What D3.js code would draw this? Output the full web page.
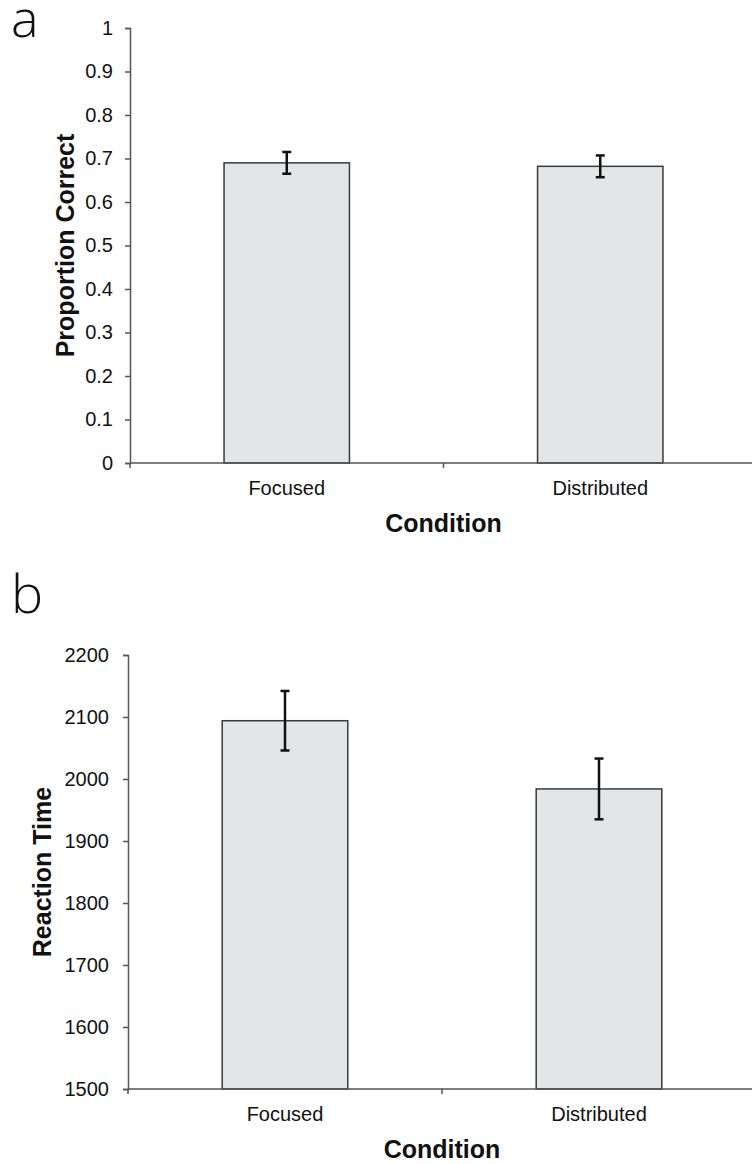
<!DOCTYPE html>
<html>
<head>
<meta charset="utf-8">
<script src="https://cdn.jsdelivr.net/npm/d3@7"></script>
<style>
  html, body { margin: 0; padding: 0; background: #fff; }
  svg { display: block; }
  text { font-family: "Liberation Sans", Arial, Helvetica, sans-serif; fill: #111; }
</style>
</head>
<body>
<svg id="chart" width="752" height="1164"></svg>
<script>
// Conditions shown on both panels
const categories = ["Focused", "Distributed"];

// Panel a: proportion correct (mean and standard error)
const accuracyMean = [0.69, 0.682];
const accuracyErr = [0.025, 0.025];
const accuracyTicks = [0, 0.1, 0.2, 0.3, 0.4, 0.5, 0.6, 0.7, 0.8, 0.9, 1];

// Panel b: reaction time (mean and standard error)
const rtMean = [2094, 1984];
const rtErr = [48, 49];
const rtTicks = [1500, 1600, 1700, 1800, 1900, 2000, 2100, 2200];

const svg = d3.select("#chart");

function drawPanel(cfg) {
  const g = svg.append("g");

  const x = d3.scaleBand()
    .domain(cfg.categories)
    .range([cfg.left, cfg.right])
    .paddingInner(0.6)
    .paddingOuter(0.3);

  const y = d3.scaleLinear()
    .domain(cfg.domain)
    .range([cfg.bottom, cfg.top]);

  // panel letter
  g.append("text")
    .attr("x", 11)
    .attr("y", cfg.letterY)
    .attr("font-size", cfg.letterSize)
    .attr("font-weight", 300)
    .style("font-family", "'Open Sans', 'Liberation Sans', Arial, sans-serif")
    .text(cfg.letter);

  // bars
  g.selectAll("rect.bar")
    .data(cfg.categories)
    .join("rect")
    .attr("class", "bar")
    .attr("x", d => x(d))
    .attr("width", x.bandwidth())
    .attr("y", (d, i) => y(cfg.mean[i]))
    .attr("height", (d, i) => y(cfg.domain[0]) - y(cfg.mean[i]))
    .attr("fill", "#e4e5e7")
    .attr("stroke", "#3a3a3a")
    .attr("stroke-width", 1.5);

  // error bars
  const eb = g.selectAll("g.err")
    .data(cfg.categories)
    .join("g")
    .attr("class", "err")
    .attr("stroke", "#111")
    .attr("stroke-width", 2.5);
  const cx = d => x(d) + x.bandwidth() / 2;
  eb.append("line")
    .attr("x1", cx).attr("x2", cx)
    .attr("y1", (d, i) => y(cfg.mean[i] + cfg.err[i]))
    .attr("y2", (d, i) => y(cfg.mean[i] - cfg.err[i]));
  eb.append("line")
    .attr("x1", d => cx(d) - 4.5).attr("x2", d => cx(d) + 4.5)
    .attr("y1", (d, i) => y(cfg.mean[i] + cfg.err[i]))
    .attr("y2", (d, i) => y(cfg.mean[i] + cfg.err[i]));
  eb.append("line")
    .attr("x1", d => cx(d) - 4.5).attr("x2", d => cx(d) + 4.5)
    .attr("y1", (d, i) => y(cfg.mean[i] - cfg.err[i]))
    .attr("y2", (d, i) => y(cfg.mean[i] - cfg.err[i]));

  // y axis
  const yAxis = g.append("g")
    .attr("transform", `translate(${cfg.left},0)`)
    .call(d3.axisLeft(y).tickValues(cfg.ticks).tickSize(5).tickPadding(cfg.tickPad).tickFormat(d => String(d)));
  yAxis.selectAll("text").attr("font-size", 20).attr("fill", "#111")
    .style("font-family", "'Liberation Sans', Arial, sans-serif");

  // x axis: ticks at category boundaries, line runs to the edge
  const boundaries = [cfg.left, (x(cfg.categories[0]) + x.bandwidth() + x(cfg.categories[1])) / 2];
  const xAxis = g.append("g").attr("transform", `translate(0,${cfg.bottom})`);
  xAxis.append("line")
    .attr("x1", cfg.left).attr("x2", 752)
    .attr("y1", 0).attr("y2", 0);
  xAxis.selectAll("line.tk")
    .data(boundaries)
    .join("line")
    .attr("class", "tk")
    .attr("x1", d => d).attr("x2", d => d)
    .attr("y1", 0).attr("y2", 5);
  xAxis.selectAll("text")
    .data(cfg.categories)
    .join("text")
    .attr("x", d => cx(d))
    .attr("y", 32)
    .attr("text-anchor", "middle")
    .attr("font-size", 20)
    .text(d => d);

  // axis styling
  g.selectAll(".domain, .tick line").attr("stroke", "#555").attr("stroke-width", 1.5);
  xAxis.selectAll("line").attr("stroke", "#555").attr("stroke-width", 1.5);

  // axis titles
  g.append("text")
    .attr("x", boundaries[1])
    .attr("y", cfg.bottom + 69)
    .attr("text-anchor", "middle")
    .attr("font-size", 25)
    .attr("font-weight", "bold")
    .text("Condition");

  g.append("text")
    .attr("transform", `translate(${cfg.titleX},${(cfg.top + cfg.bottom) / 2}) rotate(-90)`)
    .attr("text-anchor", "middle")
    .attr("font-size", 25)
    .attr("font-weight", "bold")
    .text(cfg.yTitle);
}

drawPanel({
  letter: "a", letterY: 37, letterSize: 52,
  categories, mean: accuracyMean, err: accuracyErr,
  domain: [0, 1], ticks: accuracyTicks,
  left: 130, right: 757, top: 28, bottom: 463,
  tickPad: 12, titleX: 74, yTitle: "Proportion Correct"
});

drawPanel({
  letter: "b", letterY: 613, letterSize: 54,
  categories, mean: rtMean, err: rtErr,
  domain: [1500, 2200], ticks: rtTicks,
  left: 128, right: 756, top: 655, bottom: 1089,
  tickPad: 14, titleX: 51, yTitle: "Reaction Time"
});
</script>
</body>
</html>
